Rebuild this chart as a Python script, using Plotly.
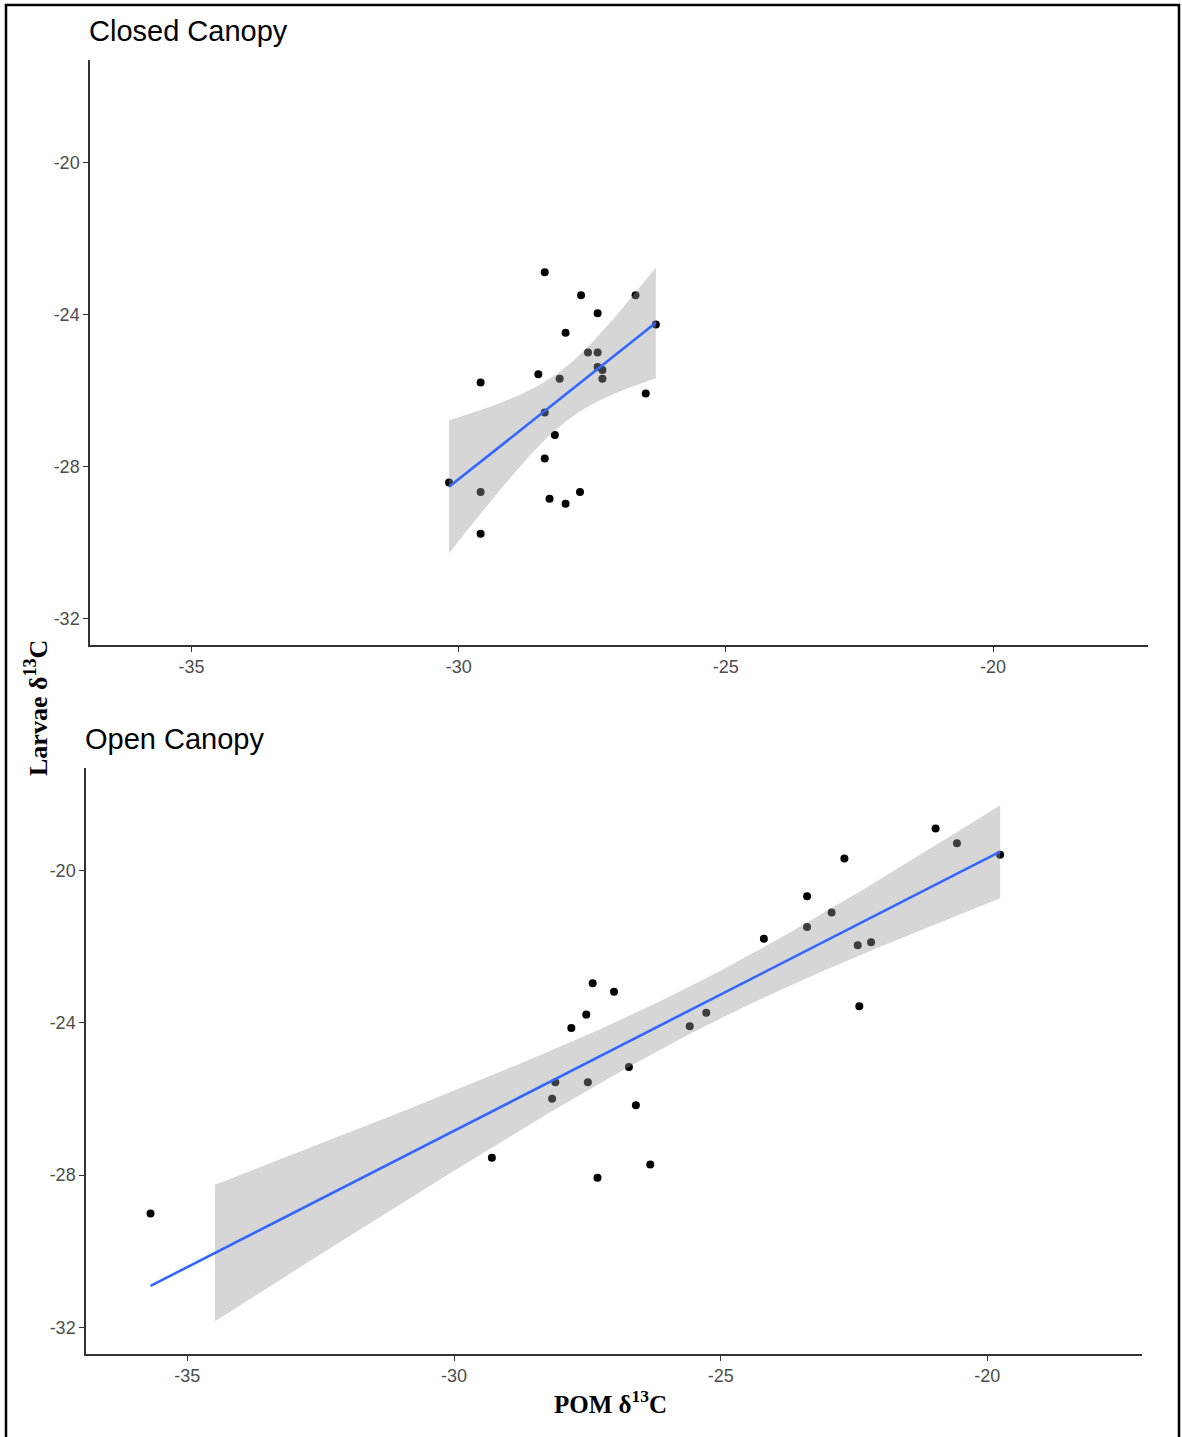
import numpy as np
import plotly.graph_objects as go

# ---------------- data ----------------
closed_pom = [-28.39, -27.71, -26.69, -27.40, -26.31, -28.00, -27.58, -27.40,
              -27.40, -27.31, -27.31, -28.51, -28.11, -29.59, -26.50, -28.39,
              -28.20, -28.39, -30.18, -29.59, -27.73, -28.30, -28.00, -29.59]
closed_larvae = [-22.89, -23.49, -23.49, -23.97, -24.26, -24.48, -25.00, -25.00,
                 -25.38, -25.46, -25.69, -25.57, -25.69, -25.79, -26.08, -26.58,
                 -27.17, -27.79, -28.42, -28.67, -28.67, -28.85, -28.98, -29.77]

open_pom = [-35.69, -29.29, -27.40, -27.00, -27.52, -27.80, -25.58, -25.27,
            -26.72, -28.10, -27.49, -28.16, -26.59, -26.32, -27.31,
            -20.97, -20.57, -19.76, -22.68, -23.38, -22.92, -23.38, -24.19,
            -22.43, -22.18, -22.40]
open_larvae = [-29.01, -27.54, -22.96, -23.18, -23.78, -24.13, -24.09, -23.73,
               -25.16, -25.56, -25.56, -25.99, -26.16, -27.72, -28.07,
               -18.89, -19.28, -19.58, -19.68, -20.67, -21.10, -21.48, -21.79,
               -21.96, -21.88, -23.56]

x_ticks = [-35, -30, -25, -20]
x_tick_labels = ["-35", "-30", "-25", "-20"]
y_ticks = [-20, -24, -28, -32]
y_tick_labels = ["-20", "-24", "-28", "-32"]
x_limits = [-36, -18]
y_limits = [-32, -18]

panel_titles = ["Closed Canopy", "Open Canopy"]
x_title = "<b>POM δ<sup>13</sup>C</b>"
y_title = "<b>Larvae δ<sup>13</sup>C</b>"

T975 = {22: 2.0739, 24: 2.0639}

W, H = 1182, 1437


def lm_fit(x, y, n_grid=80):
    x = np.asarray(x, float)
    y = np.asarray(y, float)
    n = len(x)
    b, a = np.polyfit(x, y, 1)
    resid = y - (a + b * x)
    s = np.sqrt(np.sum(resid ** 2) / (n - 2))
    xbar = x.mean()
    sxx = np.sum((x - xbar) ** 2)
    gx = np.linspace(x.min(), x.max(), n_grid)
    gy = a + b * gx
    se = s * np.sqrt(1.0 / n + (gx - xbar) ** 2 / sxx)
    t = T975[n - 2]
    return gx, gy, gy - t * se, gy + t * se


def expand(lim, f=0.05):
    d = (lim[1] - lim[0]) * f
    return [lim[0] - d, lim[1] + d]


fig = go.Figure()

# pixel boxes of the two panels (left, top, right, bottom)
boxes = [(90, 60, 1148, 645), (86, 768, 1142, 1354)]
datasets = [(closed_pom, closed_larvae), (open_pom, open_larvae)]

for i, ((px, py), box) in enumerate(zip(datasets, boxes)):
    sfx = "" if i == 0 else "2"
    xa, ya = "x" + sfx, "y" + sfx
    fig.add_trace(go.Scatter(x=px, y=py, mode="markers", xaxis=xa, yaxis=ya,
                             marker=dict(color="black", size=8, line=dict(width=0)),
                             showlegend=False, hoverinfo="skip"))
    gx, gy, lo, hi = lm_fit(px, py)
    keep = (lo >= y_limits[0]) & (hi <= y_limits[1])
    rx = np.concatenate([gx[keep], gx[keep][::-1]])
    ry = np.concatenate([hi[keep], lo[keep][::-1]])
    fig.add_trace(go.Scatter(x=rx, y=ry, mode="lines", fill="toself",
                             fillcolor="rgba(153,153,153,0.4)", line=dict(width=0),
                             xaxis=xa, yaxis=ya, showlegend=False, hoverinfo="skip"))
    fig.add_trace(go.Scatter(x=gx, y=gy, mode="lines", xaxis=xa, yaxis=ya,
                             line=dict(color="#3366FF", width=2.6),
                             showlegend=False, hoverinfo="skip"))

    l, t, r, b = box
    axis_common = dict(showline=True, linecolor="#333333", linewidth=1.5,
                       ticks="outside", ticklen=5, tickwidth=1.3, tickcolor="#333333",
                       showgrid=False, zeroline=False, automargin=False,
                       tickfont=dict(family="Liberation Sans, Arial", size=18, color="#4D4D4D"))
    fig.layout["xaxis" + sfx] = dict(
        domain=[l / W, r / W], range=expand(x_limits), tickvals=x_ticks,
        ticktext=x_tick_labels, anchor=ya, **axis_common)
    fig.layout["yaxis" + sfx] = dict(
        domain=[1 - b / H, 1 - t / H], range=expand(y_limits), tickvals=y_ticks,
        ticktext=y_tick_labels, anchor=xa, **axis_common)

    fig.add_annotation(text=panel_titles[i], xref="paper", yref="paper",
                       x=(l - 3) / W, y=1 - (t - 11) / H, xanchor="left", yanchor="bottom",
                       showarrow=False,
                       font=dict(family="Liberation Sans, Arial", size=29, color="black"))

fig.add_annotation(text=x_title, xref="paper", yref="paper", x=610 / W, y=1 - 1402 / H,
                   xanchor="center", yanchor="middle", showarrow=False,
                   font=dict(family="Liberation Serif, Times New Roman", size=25, color="black"))
fig.add_annotation(text=y_title, xref="paper", yref="paper", x=36 / W, y=1 - 708 / H,
                   xanchor="center", yanchor="middle", showarrow=False, textangle=-90,
                   font=dict(family="Liberation Serif, Times New Roman", size=26, color="black"))

# outer frame
fig.add_shape(type="rect", xref="paper", yref="paper", x0=6 / W, x1=1179 / W,
              y0=-0.01, y1=1 - 5 / H, line=dict(color="black", width=2.5),
              fillcolor="rgba(0,0,0,0)")

fig.update_layout(width=W, height=H, margin=dict(l=0, r=0, t=0, b=0),
                  paper_bgcolor="white", plot_bgcolor="white", template="none")

fig.write_html("out.html")
